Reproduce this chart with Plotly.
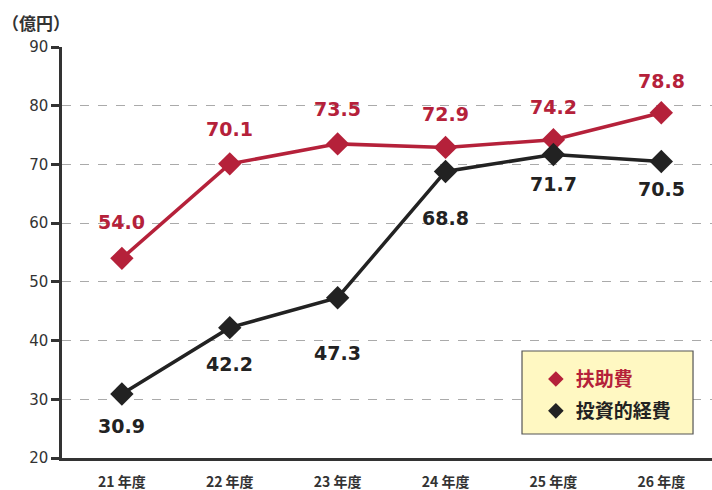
import plotly.graph_objects as go

categories = ["21 年度", "22 年度", "23 年度", "24 年度", "25 年度", "26 年度"]
fujohi = [54.0, 70.1, 73.5, 72.9, 74.2, 78.8]
toshi = [30.9, 42.2, 47.3, 68.8, 71.7, 70.5]
y_ticks = [20, 30, 40, 50, 60, 70, 80, 90]
series_names = ["扶助費", "投資的経費"]

RED = "#b5213a"
BLACK = "#222222"
xs = list(range(len(categories)))

fig = go.Figure()
for vals, col, nm in [(fujohi, RED, series_names[0]), (toshi, BLACK, series_names[1])]:
    fig.add_trace(go.Scatter(x=xs, y=vals, mode="lines+markers", name=nm, showlegend=False,
                             line=dict(color=col, width=3.5),
                             marker=dict(symbol="diamond", size=18, color=col)))
# legend entries (marker only)
for i, (col, nm, lg) in enumerate([(RED, series_names[0], "legend"), (BLACK, series_names[1], "legend2")]):
    fig.add_trace(go.Scatter(x=[None], y=[None], mode="markers", legend=lg,
                             name=f"<span style='color:{col}'>{nm}</span>",
                             marker=dict(symbol="diamond", size=18, color=col)))

red_shift = [36, 35, 35, 33, 33, 32]
blk_shift = [-32, -36, -55, -47, -30, -28]
for i in xs:
    fig.add_annotation(x=i, y=fujohi[i], text=f"{fujohi[i]:.1f}", showarrow=False,
                       yshift=red_shift[i], font=dict(family="DejaVu Sans", size=19, color=RED, weight="bold"))
    fig.add_annotation(x=i, y=toshi[i], text=f"{toshi[i]:.1f}", showarrow=False,
                       yshift=blk_shift[i], font=dict(family="DejaVu Sans", size=19, color=BLACK, weight="bold"))

fig.add_annotation(x=0, y=1.0, xref="paper", yref="paper", text="（億円）", showarrow=False,
                   xanchor="left", yanchor="bottom", xshift=-62, yshift=10,
                   font=dict(family="Noto Sans CJK JP", size=17, color="#333", weight="bold"))

# legend box
fig.add_shape(type="rect", xref="paper", yref="paper", x0=0.7077, x1=0.9708, y0=0.0584, y1=0.2603,
              fillcolor="#fff8c2", line=dict(color="#555", width=1.2), layer="above")

leg_common = dict(xanchor="left", yanchor="top", bgcolor="rgba(0,0,0,0)", borderwidth=0,
                  font=dict(family="Noto Sans CJK JP", size=19, color=BLACK, weight="bold"),
                  itemsizing="constant")

fig.update_layout(
    width=712, height=490,
    margin=dict(l=62, r=0, t=47, b=32),
    paper_bgcolor="white", plot_bgcolor="white",
    showlegend=True,
    legend=dict(x=0.729, y=0.238, **leg_common),
    legend2=dict(x=0.729, y=0.1606, **leg_common),
    xaxis=dict(range=[-0.555, 5.47], tickvals=xs, ticktext=categories, automargin=False,
               showgrid=False, zeroline=False, showline=True, linecolor="#333", linewidth=2.5,
               ticks="", tickfont=dict(family="Noto Sans CJK JP", size=14, color="#333", weight="bold"),
               ticklabelstandoff=9),
    yaxis=dict(range=[20, 90], tickvals=y_ticks, showgrid=True, gridcolor="#aaaaaa", automargin=False,
               griddash="dash", gridwidth=1, zeroline=False, showline=True, linecolor="#333",
               linewidth=2.5, ticks="outside", ticklen=8, tickwidth=2.5, tickcolor="#333",
               tickfont=dict(family="Verdana, DejaVu Sans", size=15, color="#333")),
)
fig.write_html("out.html", config={"displayModeBar": False},
               post_script="document.body.style.margin='0';")
